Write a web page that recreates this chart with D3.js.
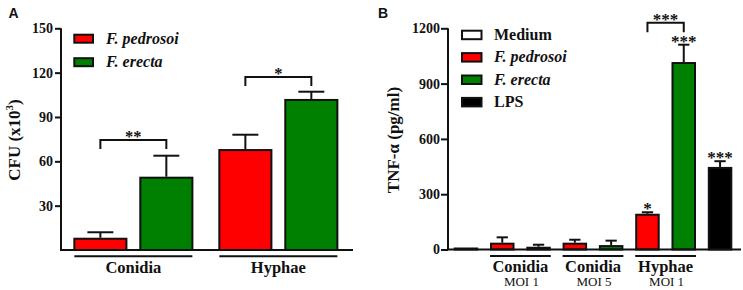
<!DOCTYPE html>
<html><head><meta charset="utf-8">
<script src="https://cdn.jsdelivr.net/npm/d3@7"></script>
<style>body{margin:0;background:#fff} svg{display:block}</style>
</head><body>
<svg id="c" width="743" height="290"></svg>
<script>
// ---------- Panel A data ----------
const catsA = ["Conidia", "Hyphae"];
const seriesA = ["F. pedrosoi", "F. erecta"];
const meanA_pedrosoi = [8.3, 68.3];
const meanA_erecta = [49.6, 102.2];
const errA_pedrosoi = [3.7, 9.7];
const errA_erecta = [14.2, 4.9];
const ticksA = [30, 60, 90, 120, 150];
const sigA = [{cat: "Conidia", level: 74.4, label: "**"}, {cat: "Hyphae", level: 117, label: "*"}];

// ---------- Panel B data ----------
const seriesB = ["Medium", "F. pedrosoi", "F. erecta", "LPS"];
const barSeriesB = ["Medium", "F. pedrosoi", "F. erecta", "F. pedrosoi", "F. erecta", "F. pedrosoi", "F. erecta", "LPS"];
const barGroupB = [null, 0, 0, 1, 1, 2, 2, null];
const groupsB = [["Conidia", "MOI 1"], ["Conidia", "MOI 5"], ["Hyphae", "MOI 1"]];
const meanB = [4, 37, 15, 37, 24, 194, 1017, 448];
const errB = [0, 29, 11, 16, 24, 8, 94, 31];
const ticksB = [0, 300, 600, 900, 1200];
const starsB = [{bar: 5, label: "*"}, {bar: 6, label: "***"}, {bar: 7, label: "***"}];
const bracketB = {from: 5, to: 6, level: 1230, label: "***"};

const colors = {"Medium": "#ffffff", "F. pedrosoi": "#ff0000", "F. erecta": "#008000", "LPS": "#000000"};
const serif = "'Liberation Serif','Times New Roman',serif";
const ink = "#111";

const svg = d3.select("#c");

function styleAxis(g) {
  g.select(".domain").attr("stroke", ink).attr("stroke-width", 2);
  g.selectAll(".tick line").attr("stroke", ink).attr("stroke-width", 2);
  g.selectAll(".tick text").attr("font-family", serif).attr("font-weight", "bold")
    .attr("font-size", 14).attr("fill", ink);
}
function star(g, x, bottom, label, fs) {
  g.append("text").attr("x", x).attr("y", bottom + 0.27 * fs)
    .attr("text-anchor", "middle").attr("font-family", serif).attr("font-weight", "bold")
    .attr("font-size", fs).attr("fill", ink).text(label);
}

// ================= PANEL A =================
{
  const g = svg.append("g");
  const x0 = d3.scaleBand().domain(catsA).range([61, 350.7]).paddingInner(0.172).paddingOuter(0.085);
  const x1 = d3.scaleBand().domain(seriesA).range([0, x0.bandwidth()]).paddingInner(0.18);
  const y = d3.scaleLinear().domain([0, 150]).range([250, 28.3]);
  const rows = [];
  catsA.forEach((c, i) => {
    rows.push({cat: c, s: seriesA[0], v: meanA_pedrosoi[i], e: errA_pedrosoi[i]});
    rows.push({cat: c, s: seriesA[1], v: meanA_erecta[i], e: errA_erecta[i]});
  });
  rows.forEach(d => {
    const cx = x0(d.cat) + x1(d.s) + x1.bandwidth() / 2;
    const cw = x1.bandwidth() * 0.24;
    g.append("line").attr("x1", cx).attr("x2", cx).attr("y1", y(d.v)).attr("y2", y(d.v + d.e))
      .attr("stroke", ink).attr("stroke-width", 2);
    g.append("line").attr("x1", cx - cw).attr("x2", cx + cw).attr("y1", y(d.v + d.e)).attr("y2", y(d.v + d.e))
      .attr("stroke", ink).attr("stroke-width", 2);
  });
  g.selectAll("rect.bar").data(rows).join("rect").attr("class", "bar")
    .attr("x", d => x0(d.cat) + x1(d.s) + 1).attr("width", x1.bandwidth() - 2)
    .attr("y", d => y(d.v) + 1).attr("height", d => y(0) - y(d.v) - 1)
    .attr("fill", d => colors[d.s]).attr("stroke", ink).attr("stroke-width", 2);
  const ay = g.append("g").attr("transform", "translate(61,0)")
    .call(d3.axisLeft(y).tickValues(ticksA).tickFormat(d3.format("d")).tickSize(6).tickSizeOuter(0).tickPadding(2));
  ay.select(".domain").attr("d", `M0,${y(150)}V${y(0)}`);
  styleAxis(ay);
  g.append("line").attr("x1", 60).attr("x2", 353).attr("y1", y(0)).attr("y2", y(0))
    .attr("stroke", ink).attr("stroke-width", 2);
  catsA.forEach(c => {
    const xs = x0(c), xe = x0(c) + x0.bandwidth();
    g.append("line").attr("x1", xs + 1).attr("x2", xe - 1).attr("y1", 256.3).attr("y2", 256.3)
      .attr("stroke", ink).attr("stroke-width", 2);
    g.append("text").attr("x", (xs + xe) / 2).attr("y", 273).attr("text-anchor", "middle")
      .attr("font-family", serif).attr("font-weight", "bold").attr("font-size", 16.5).attr("fill", ink).text(c);
  });
  sigA.forEach(s => {
    const xa = x0(s.cat) + x1(seriesA[0]) + x1.bandwidth() / 2;
    const xb = x0(s.cat) + x1(seriesA[1]) + x1.bandwidth() / 2;
    const yy = y(s.level);
    g.append("path").attr("d", `M${xa},${yy + 9}V${yy}H${xb}V${yy + 9}`)
      .attr("fill", "none").attr("stroke", ink).attr("stroke-width", 2);
    star(g, (xa + xb) / 2, yy - 2.7, s.label, 16.5);
  });
  seriesA.forEach((s, i) => {
    const top = 33.7 + i * 23.5;
    g.append("rect").attr("x", 74.3).attr("y", top + 1).attr("width", 18.7).attr("height", 8)
      .attr("fill", colors[s]).attr("stroke", ink).attr("stroke-width", 2);
    g.append("text").attr("x", 106).attr("y", top + 10).attr("font-family", serif)
      .attr("font-weight", "bold").attr("font-style", "italic").attr("font-size", 16).attr("fill", ink).text(s);
  });
  const yl = g.append("text").attr("transform", "translate(20,140) rotate(-90)").attr("text-anchor", "middle")
    .attr("font-family", serif).attr("font-weight", "bold").attr("font-size", 17).attr("fill", ink);
  yl.append("tspan").text("CFU (x10");
  yl.append("tspan").attr("font-size", 11).attr("dy", -7).text("3");
  yl.append("tspan").attr("dy", 7).text(")");
  g.append("text").attr("x", 8.5).attr("y", 18).attr("font-family", "'Liberation Sans',Arial,sans-serif")
    .attr("font-weight", "bold").attr("font-size", 14).attr("fill", ink).text("A");
}

// ================= PANEL B =================
{
  const g = svg.append("g");
  const x = d3.scaleBand().domain(d3.range(meanB.length)).range([448, 738]).paddingInner(0.325).paddingOuter(0.157);
  const y = d3.scaleLinear().domain([0, 1200]).range([249.5, 28.3]);
  const rows = meanB.map((v, i) => ({i, v, e: errB[i], s: barSeriesB[i]}));
  rows.filter(d => d.e > 0).forEach(d => {
    const cx = x(d.i) + x.bandwidth() / 2;
    const cw = x.bandwidth() * 0.23;
    g.append("line").attr("x1", cx).attr("x2", cx).attr("y1", y(d.v)).attr("y2", y(d.v + d.e))
      .attr("stroke", ink).attr("stroke-width", 2);
    g.append("line").attr("x1", cx - cw).attr("x2", cx + cw).attr("y1", y(d.v + d.e)).attr("y2", y(d.v + d.e))
      .attr("stroke", ink).attr("stroke-width", 2);
  });
  g.selectAll("rect.bar").data(rows).join("rect").attr("class", "bar")
    .attr("x", d => x(d.i) + 1).attr("width", x.bandwidth() - 2)
    .attr("y", d => Math.min(y(d.v) + 1, y(0) - 1)).attr("height", d => Math.max(1, y(0) - y(d.v) - 1))
    .attr("fill", d => colors[d.s]).attr("stroke", ink).attr("stroke-width", 2);
  const ay = g.append("g").attr("transform", "translate(448,0)")
    .call(d3.axisLeft(y).tickValues(ticksB).tickFormat(d3.format("d")).tickSize(7).tickSizeOuter(0).tickPadding(1));
  ay.select(".domain").attr("d", `M0,${y(1200)}V${y(0)}`);
  styleAxis(ay);
  g.append("line").attr("x1", 447).attr("x2", 741).attr("y1", y(0)).attr("y2", y(0))
    .attr("stroke", ink).attr("stroke-width", 2);
  groupsB.forEach((gr, gi) => {
    const idx = barGroupB.map((v, i) => v === gi ? i : -1).filter(i => i >= 0);
    const xs = x(idx[0]), xe = x(idx[idx.length - 1]) + x.bandwidth();
    g.append("line").attr("x1", xs).attr("x2", xe).attr("y1", 256).attr("y2", 256)
      .attr("stroke", ink).attr("stroke-width", 2);
    g.append("text").attr("x", (xs + xe) / 2).attr("y", 271.5).attr("text-anchor", "middle")
      .attr("font-family", serif).attr("font-weight", "bold").attr("font-size", 16.5).attr("fill", ink).text(gr[0]);
    g.append("text").attr("x", (xs + xe) / 2 + 1).attr("y", 286).attr("text-anchor", "middle")
      .attr("font-family", serif).attr("font-size", 13).attr("fill", ink).text(gr[1]);
  });
  starsB.forEach(s => {
    const cx = x(s.bar) + x.bandwidth() / 2;
    star(g, cx, y(meanB[s.bar] + errB[s.bar]) - 2.5, s.label, 17);
  });
  {
    const xa = x(bracketB.from) + x.bandwidth() / 2, xb = x(bracketB.to) + x.bandwidth() / 2;
    const yy = y(bracketB.level);
    g.append("path").attr("d", `M${xa},${yy + 9.5}V${yy}H${xb}V${yy + 9.5}`)
      .attr("fill", "none").attr("stroke", ink).attr("stroke-width", 2);
    star(g, (xa + xb) / 2, yy - 2, bracketB.label, 17);
  }
  seriesB.forEach((s, i) => {
    const top = 29.7 + i * 22.4;
    g.append("rect").attr("x", 462).attr("y", top + 1).attr("width", 19.5).attr("height", 8.5)
      .attr("fill", colors[s]).attr("stroke", ink).attr("stroke-width", 2);
    g.append("text").attr("x", 494).attr("y", top + 10).attr("font-family", serif)
      .attr("font-weight", "bold").attr("font-style", (s === "Medium" || s === "LPS") ? "normal" : "italic")
      .attr("font-size", 16).attr("fill", ink).text(s);
  });
  g.append("text").attr("transform", "translate(399,140) rotate(-90)").attr("text-anchor", "middle")
    .attr("font-family", serif).attr("font-weight", "bold").attr("font-size", 17).attr("fill", ink)
    .text("TNF-α (pg/ml)");
  g.append("text").attr("x", 378).attr("y", 18).attr("font-family", "'Liberation Sans',Arial,sans-serif")
    .attr("font-weight", "bold").attr("font-size", 14).attr("fill", ink).text("B");
}
</script>
</body></html>
